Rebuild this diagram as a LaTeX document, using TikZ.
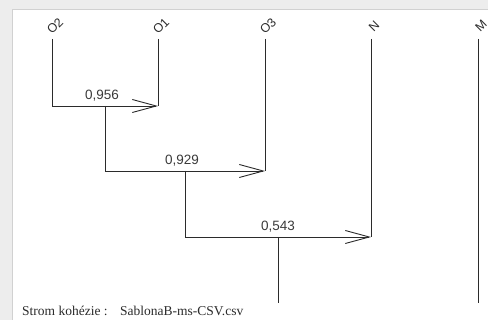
\documentclass[tikz,border=0pt]{standalone}
\usepackage{fontspec}
\setmainfont{Liberation Serif}
\newfontfamily\labelfont{Liberation Sans}
\usetikzlibrary{positioning,arrows.meta,calc}
\definecolor{framegray}{HTML}{EDEDED}
\definecolor{inkgray}{HTML}{2B2B2B}
\definecolor{numgray}{HTML}{3A3A3A}
\tikzset{
  leaflab/.style={font=\labelfont\fontsize{12.5}{14}\selectfont, text=inkgray,
    rotate=45, inner sep=0pt},
  cohlab/.style={font=\labelfont\fontsize{13.5}{15}\selectfont, text=numgray,
    inner sep=0pt, above=4.5pt},
  branch/.style={line width=0.9pt, draw=inkgray},
  merge/.style={branch, -{Straight Barb[length=24pt, width=13pt]}},
  footlab/.style={font=\fontsize{13.5}{15}\selectfont, text=inkgray, inner sep=0pt,
    anchor=base west},
}
\begin{document}
\begin{tikzpicture}[x=1pt, y=-1pt]
% --- frame ---
\fill[framegray] (0,0) rectangle (488,320);
\useasboundingbox (0,0) rectangle (488,320);
\filldraw[fill=white, draw=black!18] (12,9) rectangle (492,324);
% --- leaves ---
\foreach \name/\x/\lab in {o2/52/O2, o1/158/O1, o3/265/O3, n/371/N, m/478/M} {
  \coordinate (\name-top) at (\x,39);
  \node[leaflab] (\name-lab) at (\x+3,26) {\lab};
}
% --- merge points ---
\coordinate (m1l) at (o2-top |- 0,106);
\coordinate (m1r) at (o1-top |- m1l);
\coordinate (m1c) at ($(m1l)!0.5!(m1r)$);
\coordinate (m2l) at (m1c |- 0,171);
\coordinate (m2r) at (o3-top |- m2l);
\coordinate (m2c) at ($(m2l)!0.5!(m2r)$);
\coordinate (m3l) at (m2c |- 0,237);
\coordinate (m3r) at (n-top |- m3l);
\coordinate (m3c) at ($(m3l)!0.5!(m3r)$);
\coordinate (root) at (m3c |- 0,303);
\coordinate (m-bot) at (m-top |- root);
% --- tree ---
\draw[branch] (o1-top) -- (m1r);
\draw[merge] (o2-top) -- (m1l) -- node[cohlab, xshift=-3pt] (coh1) {0,956} (m1r);
\draw[branch] (o3-top) -- (m2r);
\draw[merge] (m1c) -- (m2l) -- node[cohlab, xshift=-3pt] (coh2) {0,929} (m2r);
\draw[branch] (n-top) -- (m3r);
\draw[merge] (m2c) -- (m3l) -- node[cohlab] (coh3) {0,543} (m3r);
\draw[branch] (m3c) -- (root);
\draw[branch] (m-top) -- (m-bot);
% --- footer ---
\node[footlab] (foottitle) at (22,316) {Strom kohézie :};
\node[footlab] (footfile) at (120,316) {SablonaB-ms-CSV.csv};
\end{tikzpicture}
\end{document}
